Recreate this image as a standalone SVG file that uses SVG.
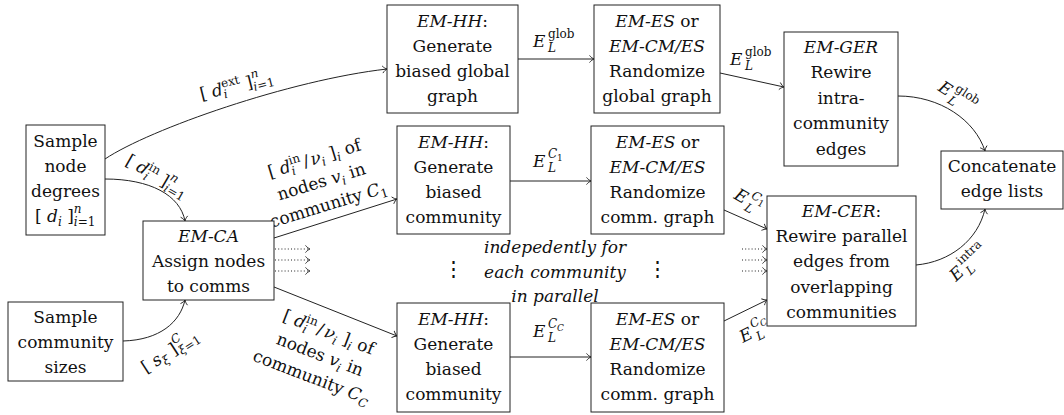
<svg xmlns="http://www.w3.org/2000/svg" width="1064" height="415" viewBox="0 0 1064 415">
<style>
.box{fill:#fff;stroke:#222;stroke-width:1}
.t{font-family:"DejaVu Serif",serif;font-size:17px;fill:#111;text-anchor:middle}
.st{text-anchor:start}
.i{font-style:italic}
.s{font-size:12px}
.xs{font-size:9px}
.vd{font-size:21px}
.e{fill:none;stroke:#222;stroke-width:1;marker-end:url(#arr)}
.d{stroke-dasharray:1 2.2}
</style>
<defs>
<marker id="arr" markerUnits="userSpaceOnUse" viewBox="-6 -5 8 10" refX="0" refY="0" markerWidth="8" markerHeight="10" orient="auto" overflow="visible">
<path d="M-4.5,-3.6 C-3,-1.6 -1.2,-0.5 0,0 C-1.2,0.5 -3,1.6 -4.5,3.6" fill="none" stroke="#222" stroke-width="0.9"/>
</marker>
</defs>

<g id="connectors">
<path class="e" d="M105,159 C150,129 290,80 387,69"/>
<path class="e" d="M105,179 C150,179 180,195 185,221"/>
<path class="e" d="M123,341 C160,340 180,322 185,300"/>
<path class="e" d="M274,238 L397,199"/>
<path class="e" d="M274,287 L397,336"/>
<path class="e d" d="M275,249 H310"/>
<path class="e d" d="M275,260 H310"/>
<path class="e d" d="M275,271 H310"/>
<path class="e" d="M518,59 H594"/>
<path class="e" d="M510,181 H591"/>
<path class="e" d="M510,357 H591"/>
<path class="e" d="M720,73 L784,87"/>
<path class="e" d="M724,210 L767,229"/>
<path class="e" d="M724,321 L767,300"/>
<path class="e d" d="M742,249 H767"/>
<path class="e d" d="M742,260 H767"/>
<path class="e d" d="M742,271 H767"/>
<path class="e" d="M898,96 C940,96 975,120 985,151"/>
<path class="e" d="M916,265 C950,262 978,240 985,209"/>

<g transform="translate(238,91) rotate(-14)"><text class="t" x="0" y="0">[<tspan class="i"> d</tspan><tspan class="s" dy="-7">ext</tspan><tspan class="s i" dx="-18.7" dy="11">i</tspan><tspan dx="14.9" dy="-4"> ]</tspan><tspan class="s i" dy="-9">n</tspan><tspan class="s" dx="-7.7" dy="13"><tspan class="i">i</tspan>=1</tspan></text></g>
<g transform="translate(154,181) rotate(30)"><text class="t" x="0" y="0">[<tspan class="i"> d</tspan><tspan class="s" dy="-7">in</tspan><tspan class="s i" dx="-11.6" dy="11">i</tspan><tspan dx="7.8" dy="-4"> ]</tspan><tspan class="s i" dy="-9">n</tspan><tspan class="s" dx="-7.7" dy="13"><tspan class="i">i</tspan>=1</tspan></text></g>
<g transform="translate(173,356) rotate(-33)"><text class="t" x="0" y="0">[<tspan class="i"> s</tspan><tspan class="s i" dy="4">ξ</tspan><tspan dy="-4"> ]</tspan><tspan class="s i" dy="-9">C</tspan><tspan class="s" dx="-8.4" dy="13"><tspan class="i">ξ</tspan>=1</tspan></text></g>

<g transform="translate(323,187) rotate(-17)">
<text class="t" x="0" y="-24">[<tspan class="i"> d</tspan><tspan class="s" dy="-7">in</tspan><tspan class="s i" dx="-11.6" dy="11">i</tspan><tspan dx="9.8" dy="-4">/</tspan><tspan class="i" dx="2">ν</tspan><tspan class="s i" dy="4">i</tspan><tspan dy="-4"> ]</tspan><tspan class="s i" dy="4">i</tspan><tspan dy="-4"> of</tspan></text>
<text class="t" x="0" y="0">nodes <tspan class="i">v</tspan><tspan class="s i" dy="4">i</tspan><tspan dy="-4"> in</tspan></text>
<text class="t" x="0" y="24">community <tspan class="i">C</tspan><tspan class="s" dy="4">1</tspan></text>
</g>
<g transform="translate(318,360) rotate(21)">
<text class="t" x="0" y="-24">[<tspan class="i"> d</tspan><tspan class="s" dy="-7">in</tspan><tspan class="s i" dx="-11.6" dy="11">i</tspan><tspan dx="9.8" dy="-4">/</tspan><tspan class="i" dx="2">ν</tspan><tspan class="s i" dy="4">i</tspan><tspan dy="-4"> ]</tspan><tspan class="s i" dy="4">i</tspan><tspan dy="-4"> of</tspan></text>
<text class="t" x="0" y="0">nodes <tspan class="i">v</tspan><tspan class="s i" dy="4">i</tspan><tspan dy="-4"> in</tspan></text>
<text class="t" x="0" y="24">community <tspan class="i">C</tspan><tspan class="s i" dy="4">C</tspan></text>
</g>

<g>
<text class="t st i" x="533" y="47">E</text><text class="t st s" x="548" y="38">glob</text><text class="t st s i" x="548" y="52">L</text>
</g>
<g>
<text class="t st i" x="533" y="167">E</text><text class="t st s i" x="548" y="158">C</text><text class="t st xs" x="557" y="161">1</text><text class="t st s i" x="548" y="172">L</text>
</g>
<g>
<text class="t st i" x="533" y="337">E</text><text class="t st s i" x="548" y="328">C</text><text class="t st xs i" x="557" y="331">C</text><text class="t st s i" x="548" y="342">L</text>
</g>
<g>
<text class="t st i" x="730" y="65">E</text><text class="t st s" x="745" y="56">glob</text><text class="t st s i" x="745" y="70">L</text>
</g>
<g transform="translate(937,90) rotate(33)">
<text class="t st i" x="0" y="0">E</text><text class="t st s" x="15" y="-9">glob</text><text class="t st s i" x="15" y="5">L</text>
</g>
<g transform="translate(733,198) rotate(30)">
<text class="t st i" x="0" y="0">E</text><text class="t st s i" x="15" y="-9">C</text><text class="t st xs" x="24" y="-6">1</text><text class="t st s i" x="15" y="5">L</text>
</g>
<g transform="translate(743,343) rotate(-27)">
<text class="t st i" x="0" y="0">E</text><text class="t st s i" x="15" y="-9">C</text><text class="t st xs i" x="24" y="-6">C</text><text class="t st s i" x="15" y="5">L</text>
</g>
<g transform="translate(956,282) rotate(-43)">
<text class="t st i" x="0" y="0">E</text><text class="t st s" x="15" y="-9">intra</text><text class="t st s i" x="15" y="5">L</text>
</g>
</g>

<g id="note">
<text class="t i" x="555" y="253">indepedently for</text>
<text class="t i" x="555" y="278">each community</text>
<text class="t i" x="555" y="302">in parallel</text>
<text class="t vd" x="453" y="276">⋮</text>
<text class="t vd" x="657" y="276">⋮</text>
</g>

<g id="sample-degrees">
<rect class="box" x="26" y="125" width="79" height="110"/>
<text class="t" x="65.5" y="147">Sample</text>
<text class="t" x="65.5" y="172">node</text>
<text class="t" x="65.5" y="197">degrees</text>
<text class="t st" x="35" y="222">[<tspan class="i"> d</tspan><tspan class="s i" dy="4">i</tspan><tspan dy="-4"> ]</tspan><tspan class="s i" dy="-9">n</tspan><tspan class="s" dx="-7.7" dy="13"><tspan class="i">i</tspan>=1</tspan></text>
</g>
<g id="sample-sizes">
<rect class="box" x="8" y="302" width="115" height="79"/>
<text class="t" x="65.5" y="323">Sample</text>
<text class="t" x="65.5" y="348">community</text>
<text class="t" x="65.5" y="373">sizes</text>
</g>
<g id="em-ca">
<rect class="box" x="143" y="221" width="131" height="79"/>
<text class="t i" x="208.5" y="242">EM-CA</text>
<text class="t" x="208.5" y="267">Assign nodes</text>
<text class="t" x="208.5" y="292">to comms</text>
</g>
<g id="hh-global">
<rect class="box" x="387" y="5" width="131" height="108"/>
<text class="t" x="452.5" y="27"><tspan class="i">EM-HH</tspan>:</text>
<text class="t" x="452.5" y="52">Generate</text>
<text class="t" x="452.5" y="77">biased global</text>
<text class="t" x="452.5" y="102">graph</text>
</g>
<g id="es-global">
<rect class="box" x="594" y="5" width="126" height="108"/>
<text class="t" x="657" y="27"><tspan class="i">EM-ES</tspan> or</text>
<text class="t i" x="657" y="52">EM-CM/ES</text>
<text class="t" x="657" y="77">Randomize</text>
<text class="t" x="657" y="102">global graph</text>
</g>
<g id="em-ger">
<rect class="box" x="784" y="32" width="114" height="134"/>
<text class="t i" x="841" y="53">EM-GER</text>
<text class="t" x="841" y="78">Rewire</text>
<text class="t" x="841" y="104">intra-</text>
<text class="t" x="841" y="129">community</text>
<text class="t" x="841" y="155">edges</text>
</g>
<g id="concat">
<rect class="box" x="941" y="151" width="122" height="58"/>
<text class="t" x="1002" y="172">Concatenate</text>
<text class="t" x="1002" y="197">edge lists</text>
</g>
<g id="hh-c1">
<rect class="box" x="397" y="126" width="113" height="108"/>
<text class="t" x="453.5" y="148"><tspan class="i">EM-HH</tspan>:</text>
<text class="t" x="453.5" y="173">Generate</text>
<text class="t" x="453.5" y="198">biased</text>
<text class="t" x="453.5" y="223">community</text>
</g>
<g id="es-c1">
<rect class="box" x="591" y="126" width="133" height="108"/>
<text class="t" x="657.5" y="148"><tspan class="i">EM-ES</tspan> or</text>
<text class="t i" x="657.5" y="173">EM-CM/ES</text>
<text class="t" x="657.5" y="198">Randomize</text>
<text class="t" x="657.5" y="223">comm. graph</text>
</g>
<g id="hh-cc">
<rect class="box" x="397" y="303" width="113" height="109"/>
<text class="t" x="453.5" y="325"><tspan class="i">EM-HH</tspan>:</text>
<text class="t" x="453.5" y="350">Generate</text>
<text class="t" x="453.5" y="375">biased</text>
<text class="t" x="453.5" y="400">community</text>
</g>
<g id="es-cc">
<rect class="box" x="591" y="303" width="133" height="109"/>
<text class="t" x="657.5" y="325"><tspan class="i">EM-ES</tspan> or</text>
<text class="t i" x="657.5" y="350">EM-CM/ES</text>
<text class="t" x="657.5" y="375">Randomize</text>
<text class="t" x="657.5" y="400">comm. graph</text>
</g>
<g id="em-cer">
<rect class="box" x="767" y="196" width="149" height="130"/>
<text class="t" x="841.5" y="217"><tspan class="i">EM-CER</tspan>:</text>
<text class="t" x="841.5" y="242">Rewire parallel</text>
<text class="t" x="841.5" y="267">edges from</text>
<text class="t" x="841.5" y="293">overlapping</text>
<text class="t" x="841.5" y="318">communities</text>
</g>
</svg>
